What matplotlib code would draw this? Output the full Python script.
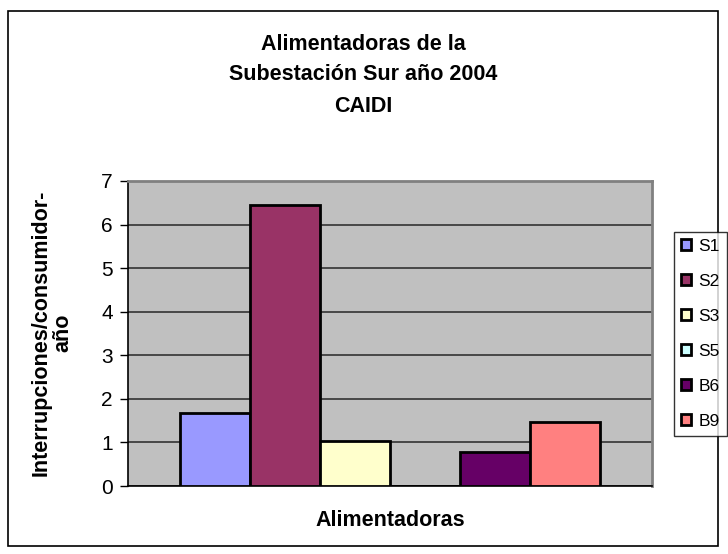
import matplotlib.pyplot as plt
from matplotlib.patches import Rectangle

# datos CAIDI por alimentadora
series = ['S1', 'S2', 'S3', 'S5', 'B6', 'B9']
valores = [1.67, 6.45, 1.04, 0.0, 0.79, 1.47]
colores = ['#9999FF', '#993366', '#FFFFCC', '#CCFFFF', '#660066', '#FF8080']
yticks = [0, 1, 2, 3, 4, 5, 6, 7]
titulo = ['Alimentadoras de la', 'Subestación Sur año 2004', 'CAIDI']

plt.rcParams['font.family'] = ['Liberation Sans', 'DejaVu Sans']

fig = plt.figure(figsize=(7.28, 5.54), dpi=100)
W, H = 728, 554
ax = fig.add_axes([128/W, 1-486/H, (652-128)/W, (486-181)/H])
ax.set_facecolor('#C0C0C0')

for i, (s, v, c) in enumerate(zip(series, valores, colores)):
    ax.bar(i, v, width=1.0, color=c, edgecolor='black', linewidth=2,
           label=s, zorder=3)

ax.set_xlim(-1.24, 6.24)
ax.set_ylim(0, 7)
ax.set_yticks(yticks)
ax.set_xticks([])
ax.yaxis.grid(True, color='#333333', linewidth=1.2, zorder=1)
ax.tick_params(axis='y', labelsize=15, length=6, width=1, direction='out', pad=5)
for sp in ['top', 'right']:
    ax.spines[sp].set_color('#808080')
    ax.spines[sp].set_linewidth(2)
ax.spines['left'].set_color('black')
ax.spines['bottom'].set_color('black')
ax.spines['left'].set_linewidth(1.2)
ax.spines['bottom'].set_linewidth(1.2)

# etiquetas de ejes
fig.text(51.7/W, 1-333/H, 'Interrupciones/consumidor-\naño', rotation=90,
         ha='center', va='center', fontsize=15.5, fontweight='bold',
         linespacing=1.05)
fig.text(390/W, 1-521/H, 'Alimentadoras', ha='center', va='center',
         fontsize=15.5, fontweight='bold')

# titulo
for t, y in zip(titulo, [45, 75, 106]):
    fig.text(363/W, 1-y/H, t, ha='center', va='center', fontsize=15.5,
             fontweight='bold')

leg = fig.legend(loc='upper left', bbox_to_anchor=(674/W, 1-232/H),
                 fontsize=12.5, frameon=True, fancybox=False, edgecolor='black',
                 handlelength=0.6, handleheight=0.6, handletextpad=0.4,
                 labelspacing=1.15, borderpad=0.4, borderaxespad=0)
leg.get_frame().set_linewidth(1)
for h in leg.legend_handles:
    h.set_linewidth(2)

fig.patches.append(Rectangle((8/W, 1-546/H), (718-8)/W, (546-11)/H,
                             transform=fig.transFigure, fill=False,
                             edgecolor='black', linewidth=1.2))

fig.savefig('out.png', dpi=100)
